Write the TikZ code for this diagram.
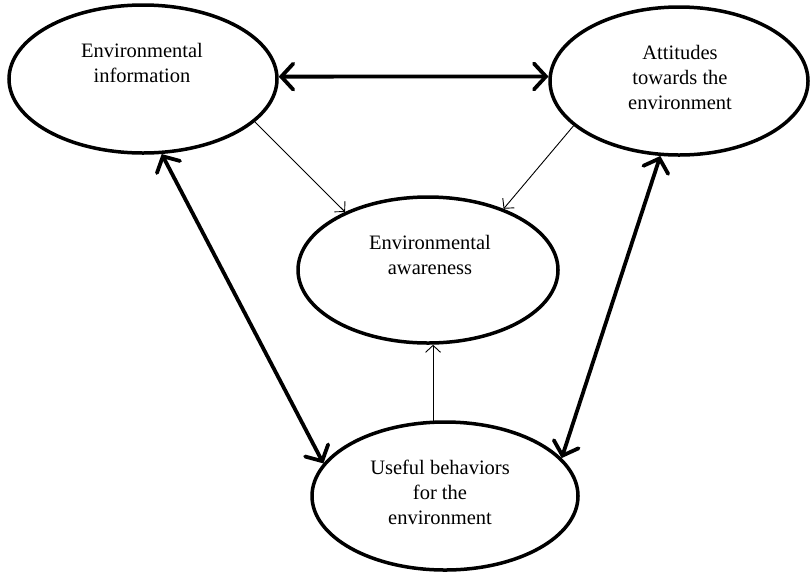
\documentclass[tikz,border=0pt]{standalone}
\usepackage{fontspec}
\setmainfont{Liberation Serif}
\usetikzlibrary{shapes.geometric,arrows.meta}
\begin{document}
\begin{tikzpicture}[x=1pt,y=-1pt,
  ell/.style={ellipse, draw, line width=3.5pt, inner sep=0pt},
  lbl/.style={align=center, font=\fontsize{20.5}{25}\selectfont, inner sep=0pt},
  bigarrow/.style={line width=3.8pt, line cap=round,
    {Straight Barb[length=12pt,width=26pt,line cap=round]}-{Straight Barb[length=12pt,width=26pt,line cap=round]}},
  smallarrow/.style={line width=0.9pt, -{Straight Barb[length=7pt,width=15pt]}}
]
\useasboundingbox (0,0) rectangle (810,574);
\node[ell, minimum width=268pt, minimum height=148pt] (a) at (143,79) {};
\node[ell, minimum width=258pt, minimum height=148pt] (b) at (679,81) {};
\node[ell, minimum width=260pt, minimum height=146pt] (c) at (428,270) {};
\node[ell, minimum width=266pt, minimum height=148pt] (d) at (445,496) {};
\node[lbl] (ta) at (142,62.5) {Environmental\\information};
\node[lbl] (tb) at (680,77.5) {Attitudes\\towards the\\environment};
\node[lbl] (tc) at (430,255) {Environmental\\awareness};
\node[lbl] (td) at (440,492.5) {Useful behaviors\\for the\\environment};
\draw[bigarrow] (a.1) -- (b.178);
\draw[bigarrow] (a.-76) -- (d.165);
\draw[bigarrow] (b.-104) -- (d.18);
\draw[smallarrow] (a.-21) -- (c.145);
\draw[smallarrow] (b.-157) -- (c.39);
\draw[smallarrow] (d.99) -- (d.99 |- c.south);
\end{tikzpicture}
\end{document}
